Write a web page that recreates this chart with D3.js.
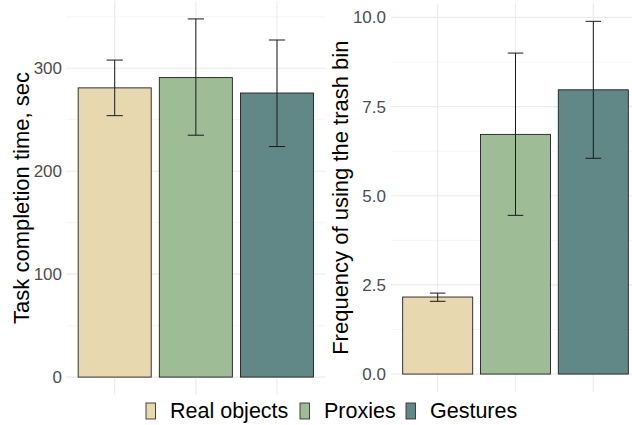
<!DOCTYPE html>
<html lang="en">
<head>
    <meta charset="UTF-8">
    <title>bars</title>
    <script src="https://d3js.org/d3.v7.min.js"></script>
    <style>
        body { margin: 0; background: #fff; }
        text { font-family: "Liberation Sans", Arial, sans-serif; }
    </style>
</head>
<body>
<script>
    const width = 632
    const height = 425
    const groups = ['Real objects', 'Proxies', 'Gestures']
    const colors = ['#E8D8B0', '#9EBD96', '#618887']
    // task completion time (sec)
    const timeMean = [281, 291, 276]
    const timeLow = [254, 235, 224]
    const timeHigh = [308, 348, 327.5]
    const timeTicks = [0, 100, 200, 300]
    const timeMinor = [50, 150, 250, 350]
    // trash bin frequency
    const trashMean = [2.16, 6.72, 7.97]
    const trashLow = [2.04, 4.45, 6.05]
    const trashHigh = [2.27, 9.0, 9.89]
    const trashTicks = [0, 2.5, 5, 7.5, 10]
    const trashMinor = [1.25, 3.75, 6.25, 8.75]

    var svg = d3.select("body")
        .append("svg")
        .attr("width", width)
        .attr("height", height)

    function panel(box, mean, low, high, ticks, minor, fmt, title, titleX) {
        var top = d3.max(high)
        var xScale = d3.scalePoint()
            .domain(groups)
            .range([box.x0, box.x1])
            .padding(0.6)
        var step = xScale.step()
        var yScale = d3.scaleLinear()
            .domain([-0.05 * top, top * 1.05])
            .range([box.y1, box.y0])
        var g = svg.append("g")
        // minor grid
        g.selectAll(".minor")
            .data(minor.filter(v => yScale(v) >= box.y0))
            .enter()
            .append("line")
            .attr("x1", box.x0).attr("x2", box.x1)
            .attr("y1", d => yScale(d)).attr("y2", d => yScale(d))
            .attr("stroke", "#F2F2F2")
            .attr("stroke-width", 0.8)
        // major grid
        g.selectAll(".major")
            .data(ticks)
            .enter()
            .append("line")
            .attr("x1", box.x0).attr("x2", box.x1)
            .attr("y1", d => yScale(d)).attr("y2", d => yScale(d))
            .attr("stroke", "#EBEBEB")
            .attr("stroke-width", 1.1)
        g.selectAll(".vgrid")
            .data(groups)
            .enter()
            .append("line")
            .attr("x1", d => xScale(d)).attr("x2", d => xScale(d))
            .attr("y1", box.y0).attr("y2", box.y1)
            .attr("stroke", "#EBEBEB")
            .attr("stroke-width", 1.1)
        // y axis labels
        var yAxis = d3.axisLeft(yScale)
            .tickValues(ticks)
            .tickFormat(fmt)
            .tickSize(0)
            .tickPadding(box.pad)
        var ax = svg.append("g")
            .attr("transform", "translate(" + box.x0 + ",0)")
            .call(yAxis)
        ax.select(".domain").remove()
        ax.selectAll("text")
            .attr("fill", "#4D4D4D")
            .attr("font-size", 17)
            .attr("font-family", "Liberation Sans")
        // bars
        g.selectAll(".bar")
            .data(groups)
            .enter()
            .append("rect")
            .attr("x", d => xScale(d) - step * 0.45)
            .attr("width", step * 0.9)
            .attr("y", (d, i) => yScale(mean[i]))
            .attr("height", (d, i) => yScale(0) - yScale(mean[i]))
            .attr("fill", (d, i) => colors[i])
            .attr("stroke", "#1f1f1f")
            .attr("stroke-width", 0.9)
        // error bars
        groups.forEach(function (d, i) {
            var cx = xScale(d)
            var w = step * 0.1
            var eb = g.append("g")
                .attr("stroke", "#1a1a1a")
                .attr("stroke-width", 1)
            eb.append("line")
                .attr("x1", cx).attr("x2", cx)
                .attr("y1", yScale(low[i])).attr("y2", yScale(high[i]))
            eb.append("line")
                .attr("x1", cx - w).attr("x2", cx + w)
                .attr("y1", yScale(low[i])).attr("y2", yScale(low[i]))
            eb.append("line")
                .attr("x1", cx - w).attr("x2", cx + w)
                .attr("y1", yScale(high[i])).attr("y2", yScale(high[i]))
        })
        svg.append("text")
            .text(title)
            .attr("transform", "translate(" + titleX + "," + ((box.y0 + box.y1) / 2) + ") rotate(-90)")
            .attr("text-anchor", "middle")
            .attr("font-size", 22)
            .attr("fill", "#000")
    }

    panel({x0: 66, x1: 325.7, y0: 1, y1: 395, pad: 4}, timeMean, timeLow, timeHigh,
        timeTicks, timeMinor, d3.format("d"), "Task completion time, sec", 29)
    panel({x0: 391, x1: 640, y0: 3.7, y1: 391.7, pad: 5}, trashMean, trashLow, trashHigh,
        trashTicks, trashMinor, d3.format(".1f"), "Frequency of using the trash bin", 348)

    // legend
    const legendX = [146, 300, 406]
    var legend = svg.append("g")
    groups.forEach(function (d, i) {
        legend.append("rect")
            .attr("x", legendX[i])
            .attr("y", 403)
            .attr("width", 9.5)
            .attr("height", 16)
            .attr("fill", colors[i])
            .attr("stroke", "#333")
            .attr("stroke-width", 0.9)
        legend.append("text")
            .text(d)
            .attr("x", legendX[i] + 24)
            .attr("y", 418)
            .attr("font-size", 21.5)
            .attr("fill", "#000")
    })
</script>
</body>
</html>
